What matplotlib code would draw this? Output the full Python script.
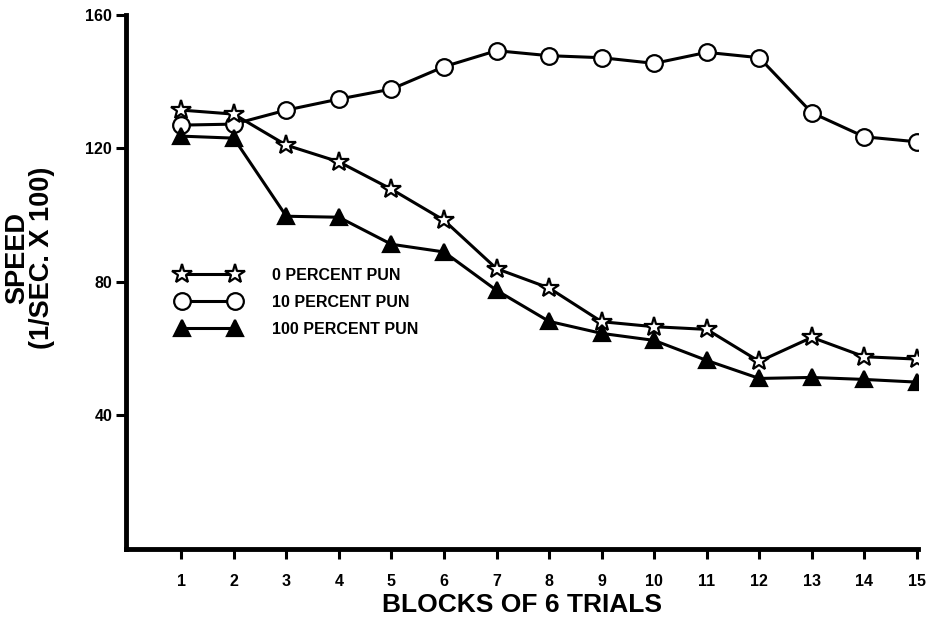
import matplotlib.pyplot as plt

# Blocks of 6 trials and mean running speed (1/sec x 100) per group
blocks = list(range(1, 16))
pun_0 = [131.5, 130.3, 121.0, 116.0, 107.8, 98.5, 84.0, 78.2, 68.1, 66.6, 65.8, 56.2, 63.4, 57.6, 56.9]
pun_10 = [127.0, 127.3, 131.5, 134.8, 137.8, 144.5, 149.3, 147.8, 147.2, 145.5, 148.8, 147.2, 130.7, 123.5, 122.0]
pun_100 = [123.7, 123.1, 99.7, 99.4, 91.3, 89.0, 77.5, 68.2, 64.6, 62.5, 56.5, 51.1, 51.4, 50.8, 50.0]
y_ticks = [40, 80, 120, 160]

plt.rcParams['font.family'] = ['Liberation Sans', 'DejaVu Sans']

fig = plt.figure(figsize=(9.28, 6.19), dpi=100)
ax = fig.add_axes([0.1358, 0.1131, 0.8534, 0.8627])

line_kw = dict(color='black', linewidth=2.2, markeredgecolor='black', markeredgewidth=1.6)
ax.plot(blocks, pun_10, marker='o', markersize=12, markerfacecolor='white',
        label='10 PERCENT PUN', zorder=3, **line_kw)
ax.plot(blocks, pun_0, marker='*', markersize=15, markerfacecolor='white',
        label='0 PERCENT PUN', zorder=4, **line_kw)
ax.plot(blocks, pun_100, marker='^', markersize=12, markerfacecolor='black',
        label='100 PERCENT PUN', zorder=5, **line_kw)

ax.set_xlim(-0.05, 15.02)
ax.set_ylim(0, 160)
ax.set_xticks(blocks)
ax.set_yticks(y_ticks)
ax.tick_params(axis='both', direction='out', length=7, width=2.2, labelsize=11.5)
ax.tick_params(axis='y', pad=3)
ax.tick_params(axis='x', pad=11)
for lab in ax.get_xticklabels() + ax.get_yticklabels():
    lab.set_fontweight('bold')

ax.spines['top'].set_visible(False)
ax.spines['right'].set_visible(False)
ax.spines['left'].set_linewidth(3.5)
ax.spines['bottom'].set_linewidth(3.5)

ax.set_xlabel('BLOCKS OF 6 TRIALS', fontsize=19, fontweight='bold', labelpad=3)
ax.set_ylabel('SPEED\n(1/SEC. X 100)', fontsize=19.5, fontweight='bold',
              linespacing=0.92)
ax.yaxis.set_label_coords(-0.09, 0.545)

# legend: order 0, 10, 100 with markers at both ends
handles, labels = ax.get_legend_handles_labels()
order = [1, 0, 2]
ax.legend([handles[i] for i in order], [labels[i] for i in order],
          numpoints=2, frameon=False, loc='upper left', bbox_to_anchor=(0.047, 0.553),
          handlelength=3.9, handletextpad=2.0, labelspacing=0.75,
          prop={'weight': 'bold', 'size': 11.5})

fig.savefig('out.png', dpi=100)
